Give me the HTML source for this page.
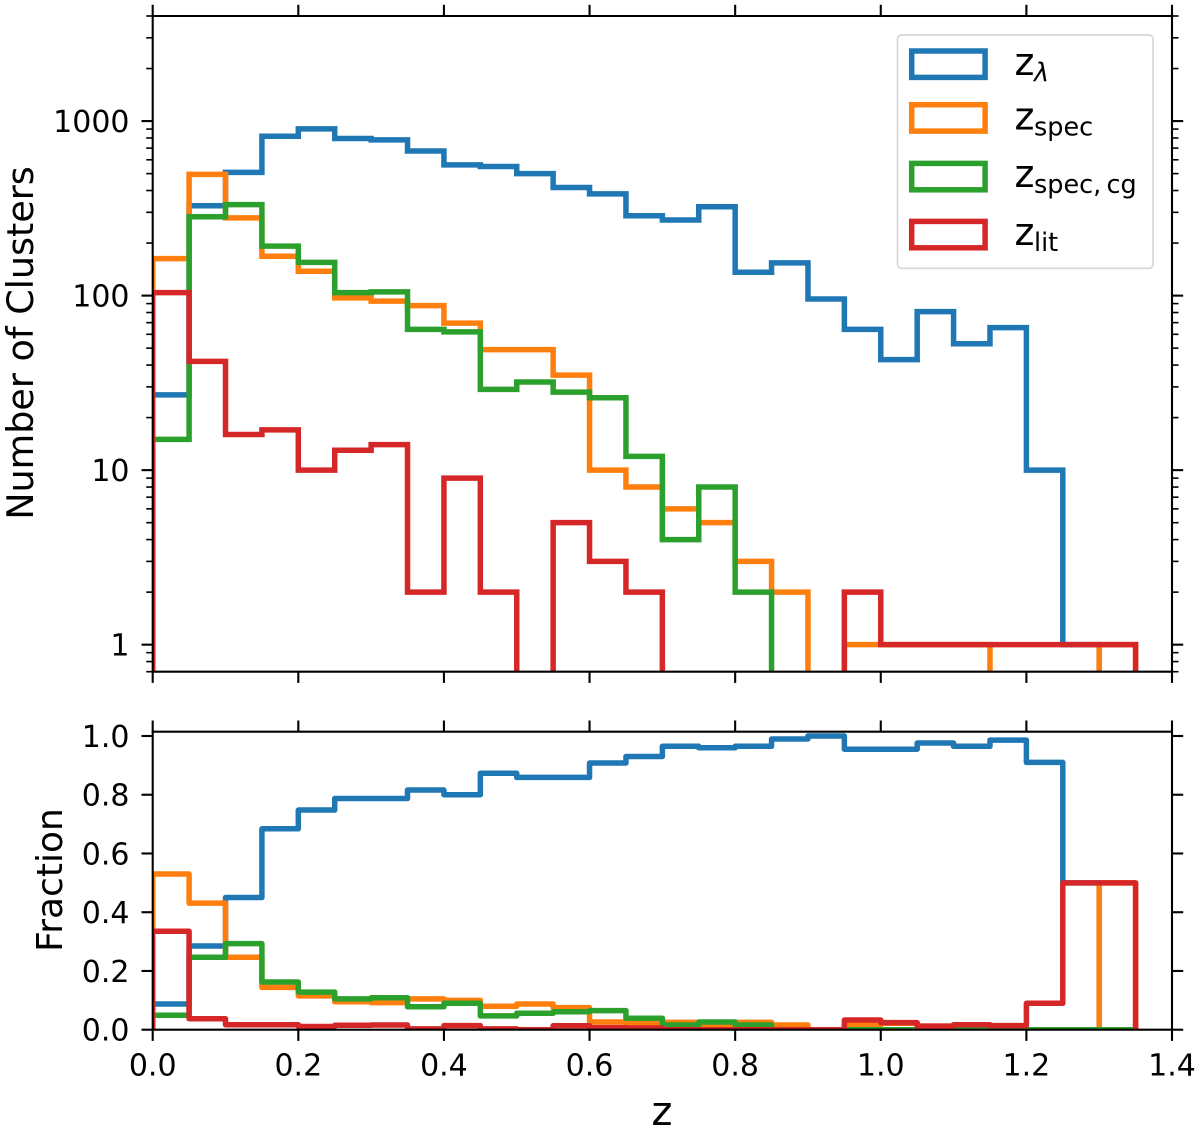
<!DOCTYPE html>
<html>
<head>
<meta charset="utf-8">
<style>
html,body{margin:0;padding:0;background:#fff;}
svg{display:block;}
text{font-family:"DejaVu Sans","Liberation Sans",sans-serif;fill:#000;}
</style>
</head>
<body>
<svg id="chart" xmlns="http://www.w3.org/2000/svg" width="1200" height="1130" viewBox="0 0 1200 1130">
  <rect width="1200" height="1130" fill="#fff"/>
  <defs>
    <clipPath id="clipTop"><rect x="152.7" y="16" width="1019.3" height="655.7"/></clipPath>
    <clipPath id="clipBottom"><rect x="152.7" y="731.7" width="1019.3" height="298"/></clipPath>
  </defs>
  <g id="topSeries" clip-path="url(#clipTop)"></g>
  <g id="bottomSeries" clip-path="url(#clipBottom)"></g>
  <g id="axes"></g>

  <text transform="translate(33,343) rotate(-90)" text-anchor="middle" font-size="36.5">Number of Clusters</text>
  <text transform="translate(62,880) rotate(-90)" text-anchor="middle" font-size="36">Fraction</text>
  <text x="662" y="1125" text-anchor="middle" font-size="40">z</text>

  <g>
    <rect x="897.5" y="35" width="255.5" height="233.3" rx="4" ry="4" fill="#fff" fill-opacity="0.8" stroke="#ccc" stroke-opacity="0.8" stroke-width="1.7"/>
    <rect x="911.7" y="51" width="73.4" height="26.4" fill="none" stroke="#1f77b4" stroke-width="5.5"/>
    <rect x="911.7" y="104.7" width="73.4" height="26.4" fill="none" stroke="#ff7f0e" stroke-width="5.5"/>
    <rect x="911.7" y="163.4" width="73.4" height="26.4" fill="none" stroke="#2ca02c" stroke-width="5.5"/>
    <rect x="911.7" y="221.4" width="73.4" height="26.4" fill="none" stroke="#d62728" stroke-width="5.5"/>

    <g>
      <text x="1014.5" y="75" font-size="38">z</text>
      <text x="1034" y="81" font-size="25.5" font-style="italic">λ</text>
    </g>
    <g>
      <text x="1014.5" y="129.3" font-size="38">z</text>
      <text x="1034" y="135.3" font-size="25.5">spec</text>
    </g>
    <g>
      <text x="1014.5" y="187" font-size="38">z</text>
      <text x="1034" y="193" font-size="25.5">spec,</text>
      <text x="1106.5" y="193" font-size="25.5">cg</text>
    </g>
    <g>
      <text x="1014.5" y="245" font-size="38">z</text>
      <text x="1034" y="251" font-size="25.5">lit</text>
    </g>
  </g>
</svg>
<script>
// Histogram bins
const binWidth = 0.05;
const binCount = 27;

// Upper panel: number of clusters per bin
const countsZLambda = [27,327,508,818,902,794,780,674,561,549,500,416,383,287,271,323,136,154,95.6,64,43,81,53,65.5,10,1,0];
const countsZSpec = [163,495,279,168,138,97,93,87.6,69.6,49,49,35,10,8,6,5,3,2,0,1,1,1,1,0,0,0,1];
const countsZSpecCg = [15,283,332,192,155,104,105,64,62,29,32,28,26,12,4,8,2,0,0,0,0,0,0,0,0,0,0];
const countsZLit = [104,42,16,17,10,13,14,2,9,2,0,5,3,2,0,0,0,0,0,2,1,1,1,1,1,1,1];

// Lower panel: fraction per bin
const fractionZLambda = [0.0875,0.285,0.45,0.684,0.748,0.787,0.787,0.816,0.80,0.873,0.859,0.859,0.908,0.93,0.965,0.96,0.965,0.99,1.0,0.955,0.955,0.976,0.965,0.986,0.91,0.5,0];
const fractionZSpec = [0.53,0.431,0.2465,0.144,0.115,0.095,0.092,0.105,0.1,0.08,0.0875,0.075,0.026,0.023,0.025,0.011,0.025,0.016,0,0.016,0.022,0.012,0.017,0,0,0,0.5];
const fractionZSpecCg = [0.049,0.2465,0.293,0.1625,0.128,0.105,0.109,0.078,0.09,0.047,0.056,0.061,0.065,0.039,0.016,0.026,0.016,0,0,0,0,0,0,0,0,0,0];
const fractionZLit = [0.335,0.0375,0.017,0.017,0.011,0.015,0.016,0.003,0.014,0.003,0,0.0136,0.007,0.006,0,0,0,0,0,0.033,0.024,0.012,0.017,0.014,0.09,0.5,0.5];

// Tick values and labels
const xTicks = [0,0.2,0.4,0.6,0.8,1.0,1.2,1.4];
const xTickLabels = ["0.0","0.2","0.4","0.6","0.8","1.0","1.2","1.4"];
const logMajorTicks = [1,10,100,1000];
const logMajorLabels = ["1","10","100","1000"];
const logMinorTicks = [0.7,0.8,0.9,2,3,4,5,6,7,8,9,20,30,40,50,60,70,80,90,200,300,400,500,600,700,800,900,2000,3000,4000];
const fractionTicks = [0,0.2,0.4,0.6,0.8,1.0];
const fractionTickLabels = ["0.0","0.2","0.4","0.6","0.8","1.0"];

// Axis functions
const plotLeft = 152.7, plotRight = 1172;
const topY0 = 16, topY1 = 671.7, bottomY0 = 731.7, bottomY1 = 1029.7;
const logMin = Math.log10(0.7), logMax = Math.log10(4000);
function xScale(v){ return plotLeft + v * (plotRight - plotLeft) / 1.4; }
function yLog(v){
  if (v <= 0) return topY1 + 30;
  return topY1 - (Math.log10(v) - logMin) * (topY1 - topY0) / (logMax - logMin);
}
function yFrac(v){ return bottomY1 - v * 293.7; }

const NS = 'http://www.w3.org/2000/svg';

function stepPath(values, yFn, base){
  let d = 'M' + xScale(0).toFixed(2) + ',' + base.toFixed(2);
  for (let i = 0; i < binCount; i++){
    const y = yFn(values[i]).toFixed(2);
    d += 'L' + xScale(i * binWidth).toFixed(2) + ',' + y;
    d += 'L' + xScale((i + 1) * binWidth).toFixed(2) + ',' + y;
  }
  d += 'L' + xScale(binCount * binWidth).toFixed(2) + ',' + base.toFixed(2);
  return d;
}

function addSeries(parent, values, yFn, base, color, name, join){
  const p = document.createElementNS(NS, 'path');
  p.setAttribute('d', stepPath(values, yFn, base));
  p.setAttribute('fill', 'none');
  p.setAttribute('stroke', color);
  p.setAttribute('stroke-width', '5.5');
  p.setAttribute('stroke-linejoin', join);
  
  
  parent.appendChild(p);
}

const topG = document.getElementById('topSeries');
const bottomG = document.getElementById('bottomSeries');
addSeries(topG, countsZLambda, yLog, yLog(0), '#1f77b4', 'counts-step-z-lambda', 'miter');
addSeries(topG, countsZSpec, yLog, yLog(0), '#ff7f0e', 'counts-step-z-spec', 'miter');
addSeries(topG, countsZSpecCg, yLog, yLog(0), '#2ca02c', 'counts-step-z-spec-cg', 'miter');
addSeries(topG, countsZLit, yLog, yLog(0), '#d62728', 'counts-step-z-lit', 'miter');
addSeries(bottomG, fractionZLambda, yFrac, yFrac(0), '#1f77b4', 'fraction-step-z-lambda', 'round');
addSeries(bottomG, fractionZSpec, yFrac, yFrac(0), '#ff7f0e', 'fraction-step-z-spec', 'round');
addSeries(bottomG, fractionZSpecCg, yFrac, yFrac(0), '#2ca02c', 'fraction-step-z-spec-cg', 'round');
addSeries(bottomG, fractionZLit, yFrac, yFrac(0), '#d62728', 'fraction-step-z-lit', 'round');

const axes = document.getElementById('axes');

function seg(x1, y1, x2, y2, w, name){
  const l = document.createElementNS(NS, 'line');
  l.setAttribute('x1', x1);
  l.setAttribute('y1', y1);
  l.setAttribute('x2', x2);
  l.setAttribute('y2', y2);
  l.setAttribute('stroke', '#000');
  l.setAttribute('stroke-width', w);
  
  
  axes.appendChild(l);
}

function label(x, y, str, anchor, name){
  const t = document.createElementNS(NS, 'text');
  t.setAttribute('x', x);
  t.setAttribute('y', y);
  t.setAttribute('text-anchor', anchor);
  t.setAttribute('font-size', '30');
  
  
  t.textContent = str;
  axes.appendChild(t);
}

const majorLen = 11.2, minorLen = 6.5, spineW = 2.1, majorW = 2.1, minorW = 1.6;

// x ticks on both panels, outward on every side
xTicks.forEach(function(v, i){
  const x = xScale(v);
  seg(x, topY0, x, topY0 - majorLen, majorW, 'top-panel-upper-x-tick');
  seg(x, topY1, x, topY1 + majorLen, majorW, 'top-panel-lower-x-tick');
  seg(x, bottomY0, x, bottomY0 - majorLen, majorW, 'bottom-panel-upper-x-tick');
  seg(x, bottomY1, x, bottomY1 + majorLen, majorW, 'bottom-panel-lower-x-tick');
  label(x, 1075.5, xTickLabels[i], 'middle', 'x-tick-label');
});

// log y ticks
logMajorTicks.forEach(function(v, i){
  const y = yLog(v);
  seg(plotLeft, y, plotLeft - majorLen, y, majorW, 'counts-left-major-tick');
  seg(plotRight, y, plotRight + majorLen, y, majorW, 'counts-right-major-tick');
  label(129.5, y + 11, logMajorLabels[i], 'end', 'counts-y-tick-label');
});
logMinorTicks.forEach(function(v){
  const y = yLog(v);
  seg(plotLeft, y, plotLeft - minorLen, y, minorW, 'counts-left-minor-tick');
  seg(plotRight, y, plotRight + minorLen, y, minorW, 'counts-right-minor-tick');
});

// fraction y ticks
fractionTicks.forEach(function(v, i){
  const y = yFrac(v);
  seg(plotLeft, y, plotLeft - majorLen, y, majorW, 'fraction-left-tick');
  seg(plotRight, y, plotRight + majorLen, y, majorW, 'fraction-right-tick');
  label(129.5, y + 11, fractionTickLabels[i], 'end', 'fraction-y-tick-label');
});

// spines
[[topY0, topY1, 'counts'], [bottomY0, bottomY1, 'fraction']].forEach(function(box){
  seg(plotLeft - 1, box[0], plotRight + 1, box[0], spineW, box[2] + '-top-spine');
  seg(plotLeft - 1, box[1], plotRight + 1, box[1], spineW, box[2] + '-bottom-spine');
  seg(plotLeft, box[0], plotLeft, box[1], spineW, box[2] + '-left-spine');
  seg(plotRight, box[0], plotRight, box[1], spineW, box[2] + '-right-spine');
});
</script>
</body>
</html>
